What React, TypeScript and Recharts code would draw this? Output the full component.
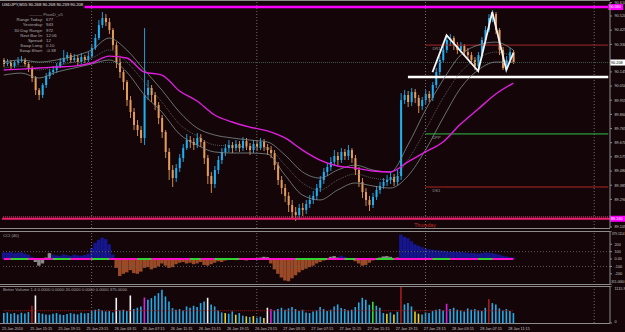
import React from "react";
import { ComposedChart, Bar, Line, XAxis, YAxis, ReferenceLine, Cell } from "recharts";

// USDJPY M15 shown as 30 minute candles, 25 Jan 11:15 onwards
const firstOpen = 90.225;
const closes = [
  90.198, 90.211, 90.184, 90.205, 90.218, 90.225, 90.198, 90.171, 90.104, 90.023,
  89.990, 90.057, 90.117, 90.144, 90.158, 90.184, 90.211, 90.238, 90.258, 90.225,
  90.238, 90.211, 90.245, 90.225, 90.251, 90.305, 90.372, 90.459, 90.506, 90.479,
  90.426, 90.325, 90.211, 90.144, 90.077, 89.956, 89.876, 89.789, 89.755, 89.702,
  89.990, 90.037, 89.990, 89.923, 89.836, 89.742, 89.608, 89.487, 89.433, 89.500,
  89.567, 89.634, 89.688, 89.675, 89.655, 89.702, 89.675, 89.567, 89.447, 89.393,
  89.487, 89.554, 89.608, 89.634, 89.655, 89.634, 89.661, 89.634, 89.681, 89.648,
  89.621, 89.661, 89.641, 89.675, 89.641, 89.621, 89.601, 89.520, 89.420, 89.366,
  89.313, 89.252, 89.205, 89.185, 89.232, 89.219, 89.259, 89.286, 89.313, 89.366,
  89.420, 89.474, 89.507, 89.541, 89.581, 89.554, 89.608, 89.581, 89.621, 89.567,
  89.487, 89.407, 89.339, 89.286, 89.252, 89.306, 89.353, 89.380, 89.407, 89.420,
  89.440, 89.407, 89.447, 89.956, 89.990, 89.943, 90.010, 89.970, 89.916, 89.956,
  89.997, 89.970, 90.057, 90.144, 90.225, 90.292, 90.359, 90.372, 90.325, 90.292,
  90.319, 90.278, 90.258, 90.225, 90.184, 90.258, 90.359, 90.426, 90.506, 90.533,
  90.426, 90.292, 90.171, 90.225, 90.278, 90.208,
];
const highs = [
  90.238, 90.231, 90.225, 90.218, 90.245, 90.251, 90.238, 90.211, 90.184, 90.117,
  90.037, 90.070, 90.137, 90.164, 90.184, 90.205, 90.238, 90.292, 90.278, 90.272,
  90.265, 90.258, 90.272, 90.258, 90.278, 90.332, 90.399, 90.493, 90.547, 90.533,
  90.506, 90.439, 90.345, 90.238, 90.158, 90.091, 89.983, 89.903, 89.822, 89.782,
  90.439, 90.091, 90.057, 90.010, 89.943, 89.856, 89.755, 89.634, 89.520, 89.527,
  89.594, 89.661, 89.728, 89.715, 89.702, 89.735, 89.728, 89.688, 89.588, 89.474,
  89.514, 89.581, 89.634, 89.661, 89.688, 89.675, 89.688, 89.681, 89.708, 89.702,
  89.668, 89.688, 89.681, 89.702, 89.695, 89.661, 89.648, 89.621, 89.541, 89.447,
  89.393, 89.339, 89.286, 89.239, 89.259, 89.266, 89.286, 89.319, 89.346, 89.393,
  89.447, 89.500, 89.534, 89.574, 89.621, 89.608, 89.634, 89.628, 89.655, 89.634,
  89.588, 89.507, 89.433, 89.366, 89.313, 89.333, 89.380, 89.407, 89.433, 89.453,
  89.474, 89.460, 89.487, 90.003, 90.023, 90.017, 90.037, 90.030, 89.990, 89.977,
  90.023, 90.017, 90.077, 90.171, 90.251, 90.319, 90.386, 90.399, 90.386, 90.345,
  90.345, 90.332, 90.305, 90.278, 90.245, 90.278, 90.379, 90.453, 90.533, 90.560,
  90.547, 90.439, 90.312, 90.251, 90.305, 90.292,
];
const lows = [
  90.178, 90.184, 90.164, 90.171, 90.191, 90.205, 90.184, 90.144, 90.077, 89.990,
  89.956, 89.970, 90.037, 90.097, 90.124, 90.137, 90.171, 90.198, 90.218, 90.205,
  90.211, 90.191, 90.198, 90.205, 90.211, 90.238, 90.292, 90.359, 90.439, 90.453,
  90.399, 90.292, 90.171, 90.104, 90.023, 89.916, 89.836, 89.755, 89.715, 89.668,
  89.655, 89.956, 89.943, 89.889, 89.795, 89.702, 89.567, 89.420, 89.373, 89.407,
  89.474, 89.541, 89.621, 89.634, 89.621, 89.634, 89.641, 89.527, 89.393, 89.333,
  89.366, 89.460, 89.527, 89.581, 89.608, 89.601, 89.614, 89.608, 89.614, 89.621,
  89.588, 89.601, 89.614, 89.621, 89.614, 89.588, 89.567, 89.487, 89.386, 89.326,
  89.272, 89.205, 89.158, 89.145, 89.152, 89.178, 89.192, 89.232, 89.259, 89.286,
  89.339, 89.393, 89.447, 89.480, 89.514, 89.520, 89.534, 89.554, 89.554, 89.534,
  89.453, 89.373, 89.299, 89.246, 89.212, 89.232, 89.286, 89.326, 89.360, 89.380,
  89.393, 89.380, 89.386, 89.420, 89.930, 89.909, 89.916, 89.936, 89.869, 89.889,
  89.930, 89.943, 89.950, 90.037, 90.124, 90.205, 90.272, 90.319, 90.292, 90.265,
  90.272, 90.251, 90.231, 90.198, 90.158, 90.171, 90.238, 90.339, 90.412, 90.479,
  90.399, 90.258, 90.158, 90.158, 90.205, 90.198,
];

// moving averages, sampled every 5 candles
const maIdx = [0, 5, 10, 15, 20, 25, 30, 35, 40, 45, 50, 55, 60, 65, 70, 75, 80, 85, 90, 95, 100, 105, 110, 115, 120, 125, 130, 135, 140, 145];
const maSlow = [90.158, 90.164, 90.171, 90.178, 90.184, 90.205, 90.251, 90.238, 90.144, 90.124, 90.017, 89.950, 89.856, 89.809, 89.775, 89.749, 89.702, 89.621, 89.554, 89.514, 89.500, 89.480, 89.474, 89.541, 89.608, 89.675, 89.795, 89.896, 89.997, 90.070];
const bandUp = [90.211, 90.225, 90.211, 90.225, 90.251, 90.292, 90.372, 90.292, 90.158, 90.023, 89.876, 89.769, 89.722, 89.702, 89.688, 89.675, 89.588, 89.474, 89.433, 89.487, 89.520, 89.487, 89.474, 89.655, 89.889, 90.091, 90.258, 90.325, 90.345, 90.292];
const bandMid = [90.171, 90.184, 90.158, 90.184, 90.211, 90.238, 90.292, 90.211, 90.077, 89.943, 89.795, 89.715, 89.655, 89.648, 89.641, 89.634, 89.520, 89.400, 89.353, 89.420, 89.460, 89.433, 89.420, 89.554, 89.755, 89.970, 90.144, 90.238, 90.278, 90.251];
const bandDn = [90.124, 90.137, 90.104, 90.144, 90.171, 90.198, 90.225, 90.144, 89.990, 89.876, 89.728, 89.655, 89.608, 89.601, 89.601, 89.594, 89.453, 89.319, 89.286, 89.353, 89.400, 89.380, 89.366, 89.447, 89.621, 89.836, 90.037, 90.158, 90.211, 90.211];

// zigzag pivots
const zzIdx = [122, 126, 135, 139, 143, 145];
const zzVal = [90.144, 90.392, 90.151, 90.547, 90.158, 90.272];

const cci = [
  90, 85, 95, 80, 85, 90, 75, 60, 30,
  -40, -90, -60, 20, 80,
  60, 50, 45, 65, 55, 40, 60, 50, 45, 55, 70,
  150, 220, 260, 290, 270, 200, 60,
  -120, -230, -200, -180,
  -150, -190, -200, -170, -120, -110, -140, -120, -100,
  -60, -90, -120, -110, -70, -50, -40, -60, -50, -70, -60, -40, -80, -90, -70, -50, -30, -40, -20, -10,
  -5, -15, 10, -10, -20, -5, 5, -10, 20, 30, 25,
  -60, -140, -200, -250, -290, -300, -260, -220, -180, -150,
  -130, -110, -90, -60, -40, -20,
  10, 30, 40, 20, 45, 30, 15, -10,
  -30, -60, -90, -80, -50, -20,
  10, 20, 35, 40, 30, 15, 20,
  330, 300,
  280, 240, 200, 180, 160, 140, 130,
  125, 120, 115, 110, 105, 100, 100, 95, 95, 90,
  85, 80, 80, 75, 80, 90, 85, 80, 70,
  60, 45, 35, 25, 20,
];
const cciGray = [9, 10, 11, 12, 13, 67, 73, 74, 75, 92, 93, 94, 95, 106, 107, 108, 109, 110, 111, 112];
const greenRanges = [[2, 3], [4, 7], [14, 19], [25, 30], [38, 42], [53, 56], [60, 67], [83, 92], [97, 100], [106, 111], [122, 127], [135, 139]];

const volume = [
  300, 320, 280, 300, 260, 310, 290, 330, 520,
  830, 300, 280, 260,
  250, 280, 300, 260, 240, 270, 300, 280, 260, 310, 290, 300,
  360, 400, 420, 380, 350, 360, 320, 760,
  380, 400, 360, 830,
  420, 460, 500, 770,
  700, 750, 820, 900, 1000, 800, 650,
  450, 400, 420, 380, 500, 460, 520, 480,
  600, 650, 760, 560, 500,
  380, 320, 300, 280, 350, 250, 300,
  220, 200, 180, 210, 160, 190, 150,
  460, 420,
  380, 420, 460, 400, 440, 480, 420, 360, 400,
  320, 300, 350, 380, 480, 420, 360, 400,
  500, 560, 450, 420, 380, 400,
  480, 620, 760, 700, 550,
  640, 520, 460,
  300, 280, 320, 260, 340,
  1100,
  560, 600, 500, 350,
  280, 260, 320, 300,
  360, 400, 420, 380, 580,
  420, 460, 400, 380, 350, 440, 400,
  420, 380, 360, 460,
  720,
  600, 560, 440,
  380, 420, 360, 300,
];
const volKind: Record<number, string> = {
  8: "r", 9: "w", 32: "w", 36: "w", 40: "m", 58: "w", 63: "y", 66: "y", 69: "y", 71: "y",
  74: "y", 75: "w", 76: "m", 105: "g", 109: "y", 111: "y", 113: "r", 117: "y", 118: "y", 126: "m", 138: "r",
};

const priceTicks = [90.61, 90.52, 90.425, 90.33, 90.145, 90.05, 89.955, 89.86, 89.765, 89.67, 89.575, 89.48, 89.385, 89.29, 89.105];
const cciTicks = [379.1114, 200, 100, 0, -100, -200, -351.066];
const timeLabels = [
  "25 Jan 2010", "25 Jan 15:15", "25 Jan 19:15", "25 Jan 23:15", "26 Jan 03:15", "26 Jan 07:15",
  "26 Jan 11:15", "26 Jan 15:15", "26 Jan 19:15", "26 Jan 23:15", "27 Jan 03:15", "27 Jan 07:15",
  "27 Jan 11:15", "27 Jan 15:15", "27 Jan 19:15", "27 Jan 23:15", "28 Jan 03:15", "28 Jan 07:15", "28 Jan 11:15",
];
const daySeps = [25, 72, 120, 168];
const pivotInfo = [
  ["Range Today:", "677"],
  ["Yesterday:", "943"],
  ["30 Day Range:", "972"],
  ["Next Bar In:", "12:06"],
  ["Spread:", "12"],
  ["Swap Long:", "0.10"],
  ["Swap Short:", "-0.38"],
];

const SLOTS = 173;
const BG = "#140508";
const TXT = "#c4c4c4";
const AX = "#8c8c8c";
const UP = "#1fb0f2";
const DOWN = "#e39c5a";
const FONT = "'Liberation Sans', Arial, sans-serif";

const rows = Array.from({ length: SLOTS }, (_, i) => {
  const r: any = { i };
  if (i < closes.length) {
    r.open = i === 0 ? firstOpen : closes[i - 1];
    r.close = closes[i];
    r.high = highs[i];
    r.low = lows[i];
    r.cci = cci[i];
    r.vol = volume[i];
    r.green = greenRanges.some(([a, b]) => i >= a && i <= b) ? 0 : null;
  }
  const k = maIdx.indexOf(i);
  if (k >= 0) {
    r.maSlow = maSlow[k];
    r.bandUp = bandUp[k];
    r.bandMid = bandMid[k];
    r.bandDn = bandDn[k];
  }
  const z = zzIdx.indexOf(i);
  if (z >= 0) r.zz = zzVal[z];
  return r;
});

const Candle = (props: any) => {
  const { x, y, width, height, payload } = props;
  if (!payload || payload.high == null) return null;
  const top = Math.min(y, y + height);
  const h = Math.abs(height);
  const span = payload.high - payload.low || 1;
  const py = (v: number) => top + ((payload.high - v) / span) * h;
  const yo = py(payload.open);
  const yc = py(payload.close);
  const c = payload.close >= payload.open ? UP : DOWN;
  const cx = x + width / 2;
  return (
    <g>
      <line x1={cx} x2={cx} y1={top} y2={top + h} stroke={c} strokeWidth={0.9} />
      <rect x={x} y={Math.min(yo, yc)} width={width} height={Math.max(0.8, Math.abs(yc - yo))} fill={c} />
    </g>
  );
};

const PriceTick = ({ x, y, payload }: any) => (
  <text x={x + 0.5} y={y + 1.3} fontSize={3.8} fill={TXT} fontFamily={FONT}>
    {payload.value.toFixed(3)}
  </text>
);

const CciTick = ({ x, y, payload }: any) => {
  const v = payload.value;
  const first = v === cciTicks[0];
  const last = v === cciTicks[cciTicks.length - 1];
  const dy = first ? 4 : last ? -2 : 1.3;
  const s = v === 0 ? "0.00" : Number.isInteger(v) ? String(v) : v.toFixed(4);
  return (
    <text x={first || last ? 624.5 : x + 0.5} y={y + dy} fontSize={first || last ? 3.2 : 3.8} fill={TXT}
      textAnchor={first || last ? "end" : "start"} fontFamily={FONT}>{s}</text>
  );
};

const VolTick = ({ x, y, payload }: any) => (
  <text x={x + 0.5} y={y + (payload.value > 0 ? 3.5 : -0.5)} fontSize={3.8} fill={TXT} fontFamily={FONT}>
    {payload.value > 0 ? payload.value.toFixed(1) : "0"}
  </text>
);

const TimeTick = ({ x, payload }: any) =>
  payload.value % 8 === 0 && timeLabels[payload.value / 8] ? (
    <text x={x - 1.7} y={43.6} fontSize={3.8} fill={TXT} fontFamily={FONT}>
      {timeLabels[payload.value / 8]}
    </text>
  ) : null;

const axisBox = (text: string, bg: string, fg: string) => ({ viewBox }: any) => (
  <g>
    <rect x={viewBox.x + viewBox.width} y={viewBox.y - 3} width={15} height={6} fill={bg} />
    <text x={viewBox.x + viewBox.width + 1} y={viewBox.y + 1.4} fontSize={3.8} fill={fg} fontFamily={FONT}>{text}</text>
  </g>
);

const pivotLabel = (text: string) => ({ viewBox }: any) => (
  <text x={viewBox.x + 7} y={viewBox.y + 5} fontSize={4} fill="#9a9a9a" fontFamily={FONT}>{text}</text>
);

const margin = { top: 0, right: 0, bottom: 0, left: 2 };
const sep = (k: string) =>
  daySeps.map((d) => <ReferenceLine key={k + d} x={d} stroke="#6e6e6e" strokeDasharray="1 2" />);

export default function App() {
  const lines = [0, 228, 231, 284, 286, 323];
  return (
    <div style={{ position: "absolute", left: 0, top: 0, width: 625, height: 332, background: BG, overflow: "hidden", fontFamily: FONT }}>
      <div style={{ position: "absolute", left: 0, top: 0 }}>
        <ComposedChart width={625} height={229} data={rows} margin={{ ...margin, top: 2, bottom: 1 }} barCategoryGap={0}>
          <XAxis dataKey="i" hide />
          <YAxis orientation="right" width={15} domain={[89.098, 90.614]} ticks={priceTicks} interval={0}
            allowDataOverflow tick={PriceTick} tickLine={{ stroke: AX }} tickSize={2} axisLine={{ stroke: AX }} />
          {sep("m")}
          <ReferenceLine segment={[{ x: 23, y: 90.58 }, { x: 172, y: 90.58 }]} stroke="#ff00ff" strokeWidth={2.5}
            label={axisBox("90.580", "#ff00ff", "#ffffff")} />
          <ReferenceLine y={90.208} stroke="#3c5650" strokeDasharray="1 1" label={axisBox("90.208", "#ffffff", "#000000")} />
          <ReferenceLine y={89.172} stroke="#e04080" strokeDasharray="1 1" />
          <ReferenceLine y={89.16} stroke="#ec1f6a" strokeWidth={2} label={axisBox("89.160", "#ff00ff", "#ffffff")} />
          <ReferenceLine segment={[{ x: 120, y: 90.325 }, { x: 172, y: 90.325 }]} stroke="#a32a2a" label={pivotLabel("DR1")} />
          <ReferenceLine segment={[{ x: 120, y: 89.729 }, { x: 172, y: 89.729 }]} stroke="#2fbf45" label={pivotLabel("DPP")} />
          <ReferenceLine segment={[{ x: 120, y: 89.373 }, { x: 172, y: 89.373 }]} stroke="#b02424" label={pivotLabel("DS1")} />
          <ReferenceLine segment={[{ x: 115, y: 90.111 }, { x: 172, y: 90.111 }]} stroke="#ffffff" strokeWidth={2.5} />
          <Line dataKey="bandUp" stroke="#7d8c8c" strokeWidth={0.8} dot={false} connectNulls type="monotone" isAnimationActive={false} />
          <Line dataKey="bandMid" stroke="#6f7c7c" strokeWidth={0.7} strokeDasharray="1 1" dot={false} connectNulls type="monotone" isAnimationActive={false} />
          <Line dataKey="bandDn" stroke="#7d8c8c" strokeWidth={0.8} dot={false} connectNulls type="monotone" isAnimationActive={false} />
          <Bar dataKey={(d: any) => (d.high == null ? null : [d.low, d.high])} shape={Candle} barSize={2} isAnimationActive={false} />
          <Line dataKey="maSlow" stroke="#e01ee0" strokeWidth={1.4} dot={false} connectNulls type="monotone" isAnimationActive={false} />
          <Line dataKey="zz" stroke="#f4f4f4" strokeWidth={1.8} dot={false} connectNulls type="linear" isAnimationActive={false} />
        </ComposedChart>
      </div>

      <div style={{ position: "absolute", left: 0, top: 231 }}>
        <ComposedChart width={625} height={54} data={rows} margin={margin} barCategoryGap={0}>
          <XAxis dataKey="i" hide />
          <YAxis orientation="right" width={15} domain={[-351.066, 379.1114]} ticks={cciTicks} interval={0}
            allowDataOverflow tick={CciTick} tickLine={{ stroke: AX }} tickSize={2} axisLine={{ stroke: AX }} />
          {sep("c")}
          <ReferenceLine y={100} stroke="#5a5a5a" strokeDasharray="1 2" />
          <ReferenceLine y={-100} stroke="#5a5a5a" strokeDasharray="1 2" />
          <Bar dataKey="cci" barSize={3.5} isAnimationActive={false}>
            {rows.map((r) => (
              <Cell key={r.i} fill={cciGray.includes(r.i) ? "#8a8a8a" : r.cci >= 0 ? "#15158e" : "#9a4a26"} />
            ))}
          </Bar>
          <ReferenceLine segment={[{ x: 0, y: 0 }, { x: 145, y: 0 }]} stroke="#ff10c8" strokeWidth={2} />
          <Line dataKey="green" stroke="#32d232" strokeWidth={2} dot={false} isAnimationActive={false} />
        </ComposedChart>
      </div>

      <div style={{ position: "absolute", left: 0, top: 286 }}>
        <ComposedChart width={625} height={46} data={rows} margin={margin} barCategoryGap={0}>
          <XAxis dataKey="i" interval={7} tick={TimeTick} axisLine={false} tickLine={false} height={9} />
          <YAxis orientation="right" width={15} domain={[0, 1115.9]} ticks={[1115.9, 0]} interval={0}
            allowDataOverflow tick={VolTick} tickLine={{ stroke: AX }} tickSize={2} axisLine={{ stroke: AX }} />
          {sep("v")}
          <Bar dataKey="vol" barSize={1.6} isAnimationActive={false}>
            {rows.map((r) => {
              const k = volKind[r.i];
              const fill = k === "r" ? "#a81c1c" : k === "w" ? "#f2f2f2" : k === "m" ? "#e020e0" : k === "y" ? "#e6d020" : k === "g" ? "#30e030" : "#22acea";
              return <Cell key={r.i} fill={fill} />;
            })}
          </Bar>
          <ReferenceLine segment={[{ x: 0, y: 370 }, { x: 145, y: 370 }]} stroke="#a01818" strokeDasharray="1 1" />
        </ComposedChart>
      </div>

      {lines.map((t) => (
        <div key={t} style={{ position: "absolute", left: 0, top: t, width: 610, height: 1, background: AX }} />
      ))}

      <svg width={625} height={332} style={{ position: "absolute", left: 0, top: 0, pointerEvents: "none" }}>
        <text x={2} y={5.5} fontSize={4.2} fill="#e8e8e8" fontFamily={FONT}>USDJPY,M15  90.268 90.268 90.239 90.208</text>
        <text x={46} y={16} fontSize={4.3} fill="#9c9c9c" textAnchor="middle" fontFamily={FONT}>——— PivotD_v5</text>
        {pivotInfo.map(([k, v], n) => (
          <g key={k}>
            <text x={43} y={21.2 + n * 5.2} fontSize={4.3} fill="#b0b0b0" textAnchor="end" fontFamily={FONT}>{k}</text>
            <text x={46} y={21.2 + n * 5.2} fontSize={4.3} fill="#b0b0b0" fontFamily={FONT}>{v}</text>
          </g>
        ))}
        <text x={425} y={227} fontSize={5.2} fill="#c0302a" textAnchor="middle" fontFamily={FONT}>Thursday</text>
        <text x={3} y={237} fontSize={4.2} fill="#a8a8a8" fontFamily={FONT}>CCI (40)</text>
        <text x={3} y={291} fontSize={4.2} fill="#a8a8a8" fontFamily={FONT}>Better Volume 1.4  0.0000 0.0000 20.0000 0.0000 0.0000 375.0000</text>
      </svg>
    </div>
  );
}
